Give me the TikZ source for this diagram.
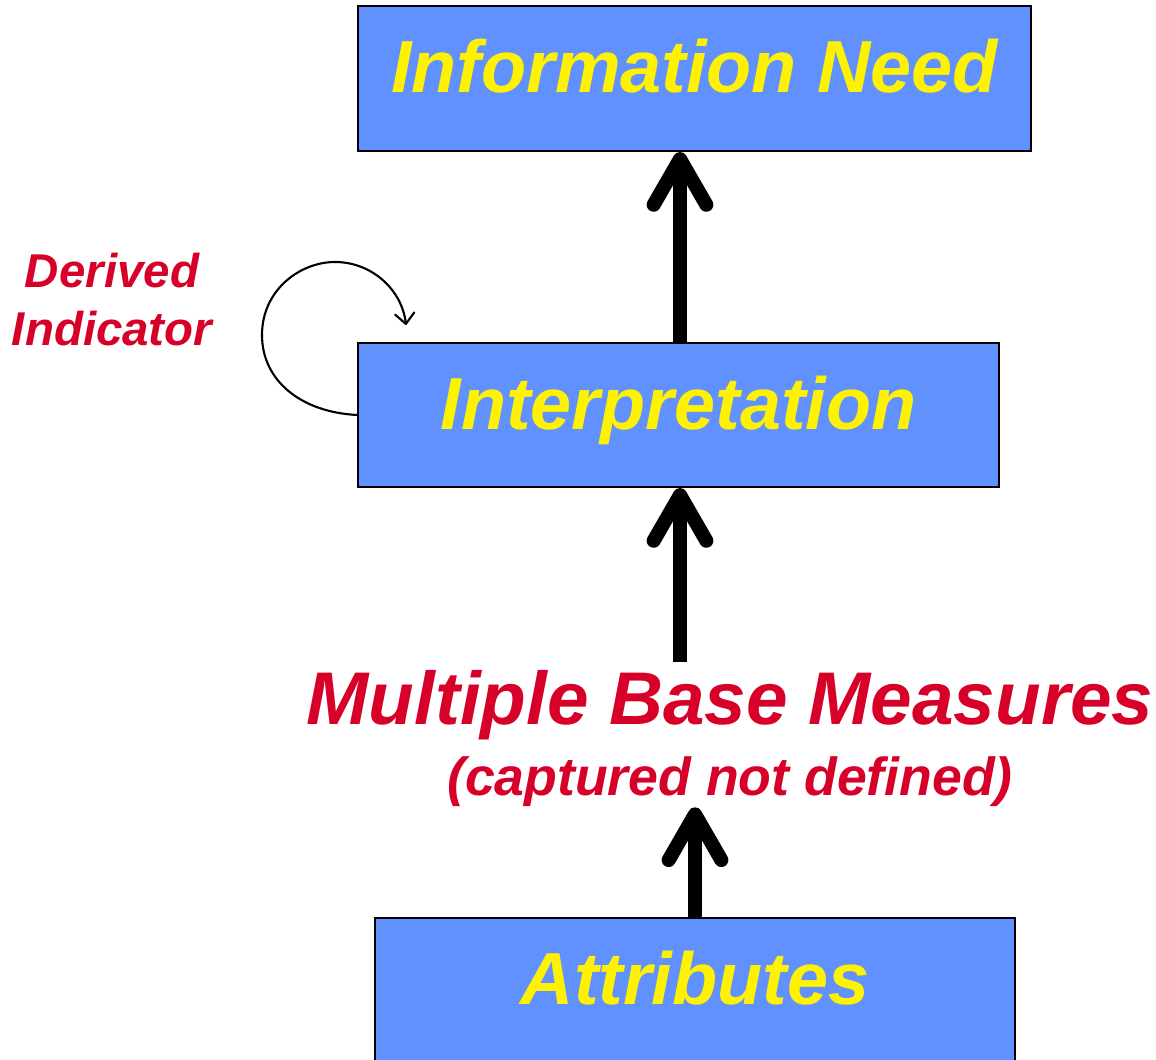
\documentclass[tikz,border=0pt]{standalone}
\usepackage{fontspec}
\setmainfont{Liberation Sans}
\usetikzlibrary{arrows.meta}

\definecolor{boxblue}{RGB}{97,144,255}
\definecolor{labelred}{RGB}{214,0,40}

\begin{document}
\begin{tikzpicture}[x=0.02cm, y=-0.02cm,
	box/.style={draw, line width=1.2pt, fill=boxblue, inner sep=0pt,
		text height=31pt, text depth=15pt,
		text=yellow, font=\fontsize{42}{48}\selectfont\bfseries\itshape},
	redtext/.style={text=labelred, inner sep=0pt},
	bigarrow/.style={line width=8pt, -{Straight Barb[length=26pt, width=30pt, round]}}
]
	\useasboundingbox (0,0) rectangle (1156,1060);

	% Boxes
	\node (need) at (694.5,78.5) [box, minimum width=13.46cm, minimum height=2.9cm] {Information Need};
	\node (interp) at (678.5,415) [box, minimum width=12.82cm, minimum height=2.88cm] {Interpretation};
	\node (attr) at (695,990) [box, minimum width=12.8cm, minimum height=2.88cm] {Attributes};

	% Red labels
	\node (base) at (730,705) [redtext, font=\fontsize{42.5}{48}\selectfont\bfseries\itshape] {Multiple Base Measures};
	\node (captured) at (730,782) [redtext, font=\fontsize{30.5}{36}\selectfont\bfseries\itshape] {(captured not defined)};
	\node (derived) at (112,300) [redtext, align=center, font=\fontsize{27}{33}\selectfont\bfseries\itshape] {Derived\\Indicator};

	% Arrows
	\coordinate (interp top) at (680,343);
	\coordinate (base top) at (680,662);
	\draw [bigarrow] (interp top) to (interp top |- need.south);
	\draw [bigarrow] (base top) to (base top |- interp.south);
	\draw [bigarrow] (attr.north) to (attr.north |- captured.south);

	% Loop back into the interpretation box
	\coordinate (loop end) at (406,325);
	\draw [line width=1.2pt, -{Straight Barb[length=6pt, width=11pt, round]}]
		(interp.west) .. controls (300,412) and (262,380) .. (262,335)
		.. controls (262,290) and (300,262) .. (335,262)
		.. controls (372,262) and (402,290) .. (loop end);

\end{tikzpicture}
\end{document}
